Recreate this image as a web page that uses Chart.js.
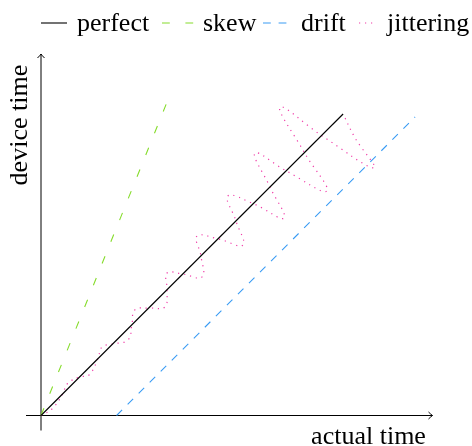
<!DOCTYPE html>
<html>
<head>
<meta charset="utf-8">
<script src="https://cdn.jsdelivr.net/npm/chart.js@4.4.1/dist/chart.umd.min.js"></script>
<style>
  html, body { margin: 0; padding: 0; background: #fff; }
</style>
</head>
<body>
<canvas id="clock" width="472" height="446"></canvas>
<script>
// clock models: device time against actual time
const SERIES = ['perfect', 'skew', 'drift', 'jittering'];

const perfectX = [0, 10.07];
const perfectY = [0, 10.05];

const skewX = [0, 4.17];
const skewY = [0, 10.37];

const driftX = [2.52, 12.47];
const driftY = [0, 9.95];

// jitter wobbles around the perfect clock, growing as time goes on
const jitterX = [0, 0.37, 0.73, 0.87, 1.27, 1.6, 1.9, 2.03, 2.37, 2.9,
  3.03, 3.13, 3.63, 4.13, 4.2, 4.2, 4.7, 5.37, 5.33, 5.2,
  5.93, 6.73, 6.5, 6.23, 7.1, 8.1, 7.63, 7.13, 8.13, 9.53,
  8.77, 7.97, 9.37, 11.1, 10.47, 10.07];
const jitterY = [0, 0.22, 0.73, 1.05, 1.28, 1.35, 1.9, 2.28, 2.38, 2.52,
  3.03, 3.52, 3.58, 3.62, 4.2, 4.75, 4.72, 4.62, 5.32, 5.98,
  5.88, 5.68, 6.48, 7.32, 7.05, 6.58, 7.62, 8.75, 8.18, 7.48,
  8.78, 10.28, 9.32, 8.25, 9.25, 10.05];

const xAxisRange = [-0.5, 13.05];
const yAxisRange = [-0.5, 12.05];
const AXIS_TITLES = ['actual time', 'device time'];

const COLORS = {
  perfect: '#000000',
  skew: '#86dc2c',
  drift: '#3a9cf4',
  jittering: '#f03ca8',
  text: '#000000'
};

const DASHES = {
  perfect: [],
  skew: [7.8, 15.6],
  drift: [7.8, 7.8],
  jittering: [1.2, 4.8]
};

const FONT = '26px "Liberation Serif", "Times New Roman", serif';

const toPoints = (xs, ys) => xs.map((x, i) => ({ x, y: ys[i] }));

function lineSet(name, xs, ys, extra) {
  return Object.assign({
    label: name,
    data: toPoints(xs, ys),
    showLine: true,
    borderColor: COLORS[name],
    borderWidth: 1.1,
    borderDash: DASHES[name],
    pointRadius: 0,
    tension: 0,
    fill: false
  }, extra || {});
}

// legend row along the top: sample start/end and text x in pixels
const legendLayout = {
  y: 23,
  baseline: 31,
  samples: [[41, 67], [162, 194], [263, 288], [359, 375]],
  textX: [77, 203, 301, 387]
};

const arrowAxes = {
  id: 'arrowAxes',
  beforeDatasetsDraw(chart) {
    const { ctx, scales: { x, y } } = chart;
    const ox = x.getPixelForValue(0);
    const oy = y.getPixelForValue(0);
    const xl = x.getPixelForValue(xAxisRange[0]);
    const xr = x.getPixelForValue(xAxisRange[1]);
    const yb = y.getPixelForValue(yAxisRange[0]);
    const yt = y.getPixelForValue(yAxisRange[1]);

    ctx.save();
    ctx.strokeStyle = '#000';
    ctx.lineWidth = 1;
    ctx.beginPath();
    ctx.moveTo(xl, oy); ctx.lineTo(xr, oy);
    ctx.moveTo(ox, yb); ctx.lineTo(ox, yt);
    ctx.stroke();

    // small open arrow heads
    ctx.beginPath();
    ctx.moveTo(xr - 4, oy - 3.5); ctx.quadraticCurveTo(xr - 1.5, oy - 1, xr, oy);
    ctx.quadraticCurveTo(xr - 1.5, oy + 1, xr - 4, oy + 3.5);
    ctx.moveTo(ox - 3.5, yt + 4); ctx.quadraticCurveTo(ox - 1, yt + 1.5, ox, yt);
    ctx.quadraticCurveTo(ox + 1, yt + 1.5, ox + 3.5, yt + 4);
    ctx.stroke();
    ctx.restore();
  },
  afterDraw(chart) {
    const { ctx, scales: { x, y } } = chart;
    ctx.save();
    ctx.font = FONT;
    ctx.fillStyle = COLORS.text;

    // axis titles
    ctx.textAlign = 'right';
    ctx.textBaseline = 'alphabetic';
    ctx.fillText(AXIS_TITLES[0], x.getPixelForValue(12.83), 444);
    ctx.save();
    ctx.translate(27, y.getPixelForValue(9.68));
    ctx.rotate(-Math.PI / 2);
    ctx.textAlign = 'center';
    ctx.fillText(AXIS_TITLES[1], 0, 0);
    ctx.restore();

    // legend
    SERIES.forEach((name, i) => {
      const [s, e] = legendLayout.samples[i];
      ctx.save();
      ctx.strokeStyle = COLORS[name];
      ctx.lineWidth = 1.1;
      ctx.setLineDash(DASHES[name]);
      ctx.beginPath();
      ctx.moveTo(s, legendLayout.y);
      ctx.lineTo(e, legendLayout.y);
      ctx.stroke();
      ctx.restore();
      ctx.textAlign = 'left';
      ctx.fillText(name, legendLayout.textX[i], legendLayout.baseline);
    });
    ctx.restore();
  }
};

new Chart(document.getElementById('clock'), {
  type: 'scatter',
  data: {
    datasets: [
      lineSet('perfect', perfectX, perfectY),
      lineSet('skew', skewX, skewY),
      lineSet('drift', driftX, driftY),
      lineSet('jittering', jitterX, jitterY, { tension: 0.42, borderWidth: 1.2 })
    ]
  },
  options: {
    responsive: false,
    animation: false,
    layout: { padding: { left: 26, right: 39.5, top: 54, bottom: 15.5 } },
    plugins: { legend: { display: false }, tooltip: { enabled: false } },
    scales: {
      x: { type: 'linear', min: xAxisRange[0], max: xAxisRange[1], display: false },
      y: { type: 'linear', min: yAxisRange[0], max: yAxisRange[1], display: false }
    }
  },
  plugins: [arrowAxes]
});
</script>
</body>
</html>
